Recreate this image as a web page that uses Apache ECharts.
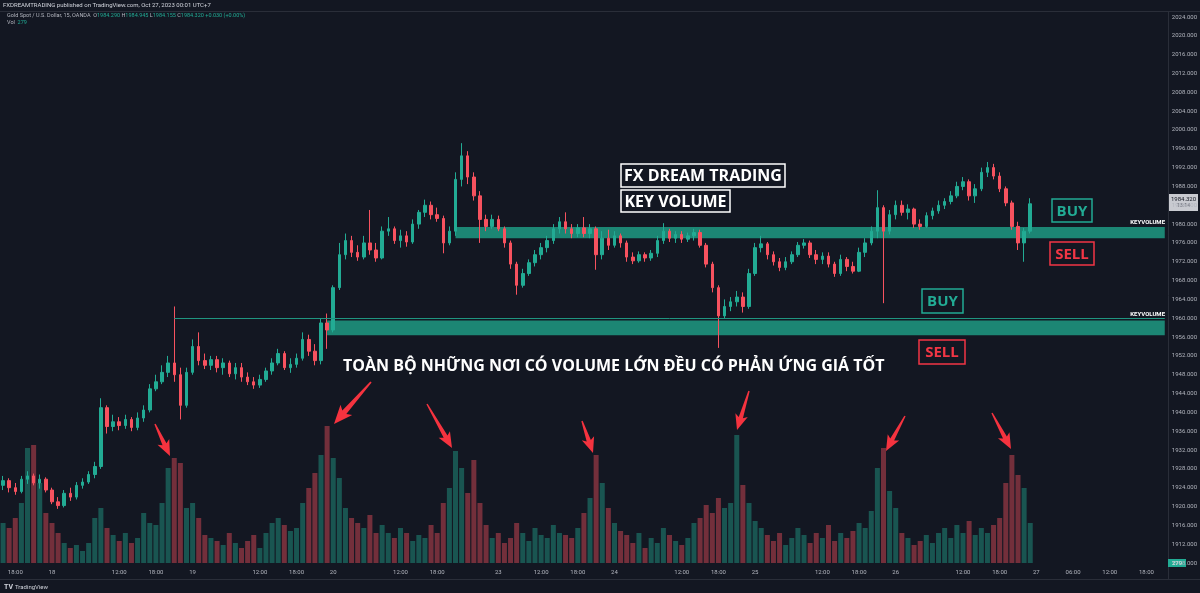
<!DOCTYPE html>
<html>
<head>
<meta charset="utf-8">
<title>XAUUSD 15 - Key Volume</title>
<script src="https://cdn.jsdelivr.net/npm/echarts@6/dist/echarts.min.js"></script>
<style>
  html, body { margin: 0; padding: 0; background: #131722; }
  #main { width: 1200px; height: 593px; }
</style>
</head>
<body>
<div id="main"></div>
<script>
// trading sessions (day, first hour, last hour), UTC+7, one slot per hour
var sessions = [
  ['17', 16, 23], ['18', 0, 3], ['18', 5, 23], ['19', 0, 3], ['19', 5, 23],
  ['20', 0, 3], ['20', 5, 23], ['21', 0, 3], ['23', 5, 23], ['24', 0, 3],
  ['24', 5, 23], ['25', 0, 3], ['25', 5, 23], ['26', 0, 3], ['26', 5, 23],
  ['27', 0, 21]
];

// time axis tick labels
var timeTicks = {
  '17 18:00': '18:00', '18 00:00': '18', '18 12:00': '12:00', '18 18:00': '18:00',
  '19 00:00': '19', '19 12:00': '12:00', '19 18:00': '18:00',
  '20 00:00': '20', '20 12:00': '12:00', '20 18:00': '18:00',
  '23 05:00': '23', '23 12:00': '12:00', '23 18:00': '18:00',
  '24 00:00': '24', '24 12:00': '12:00', '24 18:00': '18:00',
  '25 00:00': '25', '25 12:00': '12:00', '25 18:00': '18:00',
  '26 00:00': '26', '26 12:00': '12:00', '26 18:00': '18:00',
  '27 00:00': '27', '27 06:00': '06:00', '27 12:00': '12:00', '27 18:00': '18:00'
};

// [open, close, low, high]
var ohlc = [
  [1924.5,1925.5,1923.5,1926.5],[1925.5,1924.0,1923.0,1926.0],[1924.0,1923.2,1922.5,1925.0],[1923.2,1925.8,1922.8,1926.5],
  [1925.8,1926.5,1924.8,1927.5],[1926.5,1925.0,1924.5,1927.0],[1925.0,1925.8,1923.8,1926.8],[1925.8,1923.5,1923.0,1926.2],
  [1923.5,1921.0,1920.5,1924.0],[1921.0,1920.2,1919.5,1922.0],[1920.2,1922.8,1919.8,1923.5],[1922.8,1922.0,1921.2,1924.0],
  [1922.0,1924.5,1921.5,1925.2],[1924.5,1925.2,1923.8,1926.0],[1925.2,1926.8,1924.8,1927.5],[1926.8,1928.5,1926.0,1929.5],
  [1928.5,1941.0,1928.0,1943.0],[1941.0,1937.0,1935.5,1941.5],[1937.0,1938.0,1936.0,1939.5],[1938.0,1937.2,1936.2,1939.0],
  [1937.2,1938.5,1936.5,1939.5],[1938.5,1936.8,1936.0,1939.0],[1936.8,1938.8,1936.2,1940.0],[1938.8,1940.5,1938.0,1941.5],
  [1940.5,1945.0,1940.0,1946.0],[1945.0,1946.5,1944.5,1948.0],[1946.5,1948.5,1946.0,1950.0],[1948.5,1950.5,1947.5,1952.0],
  [1950.5,1948.0,1946.5,1962.5],[1948.0,1941.5,1938.5,1949.5],[1941.5,1948.5,1941.0,1949.5],[1948.5,1954.0,1948.0,1955.5],
  [1954.0,1951.0,1950.0,1957.0],[1951.0,1950.0,1949.2,1952.5],[1950.0,1951.2,1949.0,1952.0],[1951.2,1949.5,1948.5,1952.0],
  [1949.5,1950.5,1948.0,1951.5],[1950.5,1948.2,1947.5,1951.0],[1948.2,1949.5,1947.0,1950.5],[1949.5,1947.5,1946.5,1950.5],
  [1947.5,1946.5,1945.8,1948.5],[1946.5,1945.8,1945.0,1947.5],[1945.8,1947.0,1945.2,1948.0],[1947.0,1948.8,1946.5,1949.5],
  [1948.8,1950.5,1948.0,1951.5],[1950.5,1952.5,1950.0,1953.5],[1952.5,1949.5,1949.0,1953.0],[1949.5,1950.2,1948.4,1951.5],
  [1950.2,1951.5,1949.5,1952.5],[1951.5,1955.5,1951.0,1957.0],[1955.5,1953.0,1952.0,1956.5],[1953.0,1951.0,1950.0,1954.5],
  [1951.0,1959.0,1950.2,1960.0],[1959.0,1957.5,1953.5,1961.0],[1957.5,1966.5,1957.0,1967.0],[1966.5,1973.5,1966.0,1976.0],
  [1973.5,1976.5,1972.5,1978.0],[1976.5,1974.0,1973.0,1977.5],[1974.0,1973.0,1972.2,1975.5],[1973.0,1976.0,1972.5,1977.5],
  [1976.0,1974.5,1973.5,1983.0],[1974.5,1972.8,1972.0,1976.0],[1972.8,1978.5,1972.5,1979.5],[1978.5,1979.0,1977.5,1981.5],
  [1979.0,1976.5,1975.8,1979.5],[1976.5,1977.5,1975.0,1978.8],[1977.5,1976.2,1975.2,1978.5],[1976.2,1980.0,1975.8,1981.0],
  [1980.0,1982.5,1979.0,1983.0],[1982.5,1984.0,1981.5,1985.2],[1984.0,1982.0,1981.0,1984.8],[1982.0,1981.2,1980.5,1983.5],
  [1981.2,1976.0,1973.8,1981.8],[1976.0,1978.5,1975.5,1979.5],[1978.5,1989.5,1977.5,1991.0],[1989.5,1994.5,1988.0,1997.2],
  [1994.5,1990.0,1988.5,1995.5],[1990.0,1986.0,1985.0,1991.0],[1986.0,1981.0,1976.0,1987.0],[1981.0,1979.5,1978.5,1982.0],
  [1979.5,1981.0,1979.0,1982.0],[1981.0,1979.0,1978.5,1981.8],[1979.0,1976.0,1975.0,1979.5],[1976.0,1971.5,1970.5,1976.5],
  [1971.5,1967.0,1965.0,1972.0],[1967.0,1969.5,1966.5,1970.5],[1969.5,1971.8,1969.0,1972.5],[1971.8,1973.5,1971.0,1974.5],
  [1973.5,1975.0,1972.5,1976.0],[1975.0,1976.5,1974.0,1977.5],[1976.5,1979.0,1975.8,1980.0],[1979.0,1980.5,1978.0,1981.5],
  [1980.5,1979.0,1978.0,1982.5],[1979.0,1978.0,1977.0,1980.0],[1978.0,1979.2,1977.2,1980.0],[1979.2,1978.0,1977.2,1981.5],
  [1978.0,1979.0,1977.0,1980.0],[1979.0,1973.5,1970.3,1979.5],[1973.5,1977.0,1972.5,1978.5],[1977.0,1975.5,1974.5,1978.8],
  [1975.5,1977.5,1975.0,1978.5],[1977.5,1976.0,1975.0,1978.0],[1976.0,1973.0,1972.0,1976.5],[1973.0,1972.2,1971.5,1974.0],
  [1972.2,1973.5,1971.8,1974.2],[1973.5,1972.8,1972.0,1974.0],[1972.8,1973.8,1972.2,1974.5],[1973.8,1976.5,1973.0,1977.5],
  [1976.5,1978.5,1975.8,1980.2],[1978.5,1977.0,1976.2,1979.0],[1977.0,1977.8,1976.0,1978.5],[1977.8,1976.8,1976.0,1978.5],
  [1976.8,1977.5,1976.2,1978.2],[1977.5,1978.2,1976.5,1979.0],[1978.2,1975.5,1975.0,1978.8],[1975.5,1971.5,1970.8,1976.0],
  [1971.5,1966.5,1965.5,1972.0],[1966.5,1960.5,1953.7,1967.0],[1960.5,1962.5,1960.0,1964.0],[1962.5,1963.5,1961.5,1964.5],
  [1963.5,1964.5,1962.5,1965.8],[1964.5,1962.5,1961.2,1965.5],[1962.5,1969.5,1962.0,1970.5],[1969.5,1975.0,1969.0,1976.0],
  [1975.0,1975.8,1974.0,1977.5],[1975.8,1973.5,1972.5,1976.2],[1973.5,1972.0,1971.2,1974.2],[1972.0,1970.8,1970.0,1972.8],
  [1970.8,1972.0,1970.2,1973.0],[1972.0,1973.5,1971.5,1974.2],[1973.5,1975.5,1973.0,1976.2],[1975.5,1976.0,1974.8,1976.8],
  [1976.0,1973.5,1972.8,1976.5],[1973.5,1972.5,1971.5,1974.5],[1972.5,1973.2,1971.5,1974.0],[1973.2,1971.5,1970.8,1974.0],
  [1971.5,1969.5,1968.8,1972.0],[1969.5,1972.5,1969.0,1973.5],[1972.5,1971.0,1970.0,1973.0],[1971.0,1970.0,1969.5,1972.0],
  [1970.0,1974.0,1969.8,1975.0],[1974.0,1976.0,1973.0,1977.0],[1976.0,1978.5,1975.5,1979.5],[1978.5,1983.5,1977.0,1987.2],
  [1983.5,1978.5,1963.2,1984.0],[1978.5,1982.0,1977.8,1983.0],[1982.0,1984.0,1981.0,1985.0],[1984.0,1982.5,1981.8,1985.0],
  [1982.5,1983.2,1981.0,1984.2],[1983.2,1980.0,1979.2,1983.5],[1980.0,1979.5,1978.8,1981.0],[1979.5,1981.8,1979.2,1982.5],
  [1981.8,1982.8,1981.0,1983.5],[1982.8,1984.0,1982.2,1985.0],[1984.0,1984.8,1983.2,1985.5],[1984.8,1986.0,1984.2,1987.0],
  [1986.0,1988.0,1985.5,1989.0],[1988.0,1989.0,1987.2,1990.0],[1989.0,1986.0,1985.0,1989.5],[1986.0,1987.5,1984.5,1988.5],
  [1987.5,1991.0,1987.0,1992.0],[1991.0,1992.0,1990.0,1993.2],[1992.0,1990.2,1989.5,1992.8],[1990.2,1987.5,1986.8,1991.0],
  [1987.5,1984.5,1983.8,1988.0],[1984.5,1979.5,1978.8,1985.0],[1979.5,1976.0,1974.5,1980.5],[1976.0,1978.5,1972.0,1979.2],
  [1978.5,1984.32,1978.0,1985.5]
];

var volume = [
  40,35,45,60,115,118,80,50,40,30, 20,15,18,12,20,45,55,35,28,22,
  30,20,25,50,40,38,60,95,105,100, 55,60,45,28,25,22,18,30,20,15,
  22,28,15,30,40,45,38,32,35,60, 75,90,108,137,105,85,55,45,40,35,
  48,30,38,30,25,35,30,22,28,25, 38,30,60,75,112,95,70,103,60,38,
  25,30,20,25,40,30,22,35,28,25, 38,30,28,25,35,50,65,108,80,55,
  40,32,28,20,30,15,25,20,35,28, 22,18,25,40,45,58,50,65,55,60,
  128,78,60,42,35,28,22,30,18,25, 35,28,20,30,25,38,22,30,25,32,
  40,35,52,95,115,72,55,30,25,18, 22,28,20,30,35,25,38,30,42,28,
  35,30,38,45,80,108,88,75,40
];

// key volume zones [start slot, top, bottom]
var keyZones = [[74, 1979.4, 1977.0], [53, 1959.5, 1956.4]];
var keyLine = [28, 1959.9];

var cats = [];
sessions.forEach(function (s) {
  for (var h = s[1]; h <= s[2]; h++) cats.push(s[0] + ' ' + (h < 10 ? '0' : '') + h + ':00');
});

var UP = '#22ab94', DOWN = '#f7525f';
var volData = volume.map(function (v, i) {
  var up = ohlc[i][1] >= ohlc[i][0];
  return { value: v, itemStyle: { color: up ? 'rgba(34,171,148,0.42)' : 'rgba(247,82,95,0.42)' } };
});

function arrowShape(x1, y1, x2, y2, s) {
  var dx = x2 - x1, dy = y2 - y1, L = Math.sqrt(dx * dx + dy * dy);
  var ux = dx / L, uy = dy / L, px = -uy, py = ux;
  var hl = 13 * s, hw = 6.5 * s, nw = 2.2 * s, tw = 0.7 * s;
  var bx = x2 - ux * hl, by = y2 - uy * hl;
  var cx = x2 - ux * hl * 1.2, cy = y2 - uy * hl * 1.2;
  return [[x1 + px * tw, y1 + py * tw], [bx + px * nw, by + py * nw], [cx + px * hw, cy + py * hw], [x2, y2],
          [cx - px * hw, cy - py * hw], [bx - px * nw, by - py * nw], [x1 - px * tw, y1 - py * tw]];
}

function labelBox(x, y, w, h, color, text, fs) {
  return {
    type: 'group', children: [
      { type: 'rect', shape: { x: x, y: y, width: w, height: h }, style: { fill: 'rgba(0,0,0,0)', stroke: color, lineWidth: 1.5 } },
      { type: 'text', x: x + w / 2, y: y + h / 2 + 1, style: { text: text, fill: color, font: 'bold ' + fs + 'px "Open Sans"',
        align: 'center', verticalAlign: 'middle', textAlign: 'center', textVerticalAlign: 'middle' } }
    ]
  };
}

function txt(x, y, text, fill, font, align) {
  return { type: 'text', x: x, y: y, style: { text: text, fill: fill, font: font,
    align: align || 'left', textAlign: align || 'left', verticalAlign: 'middle', textVerticalAlign: 'middle' } };
}

var arrows = [[155, 424, 170, 456, 1], [371, 382, 334, 424, 1.2], [427, 404, 452, 448, 1],
              [582, 421, 593, 453, 1], [749, 391, 737, 430, 1], [905, 416, 886, 451, 1], [992, 413, 1011, 449, 1]];

var graphics = [
  txt(3, 5, 'FXDREAMTRADING published on TradingView.com, Oct 27, 2023 00:01 UTC+7', '#d1d4dc', '6px Roboto'),
  { type: 'line', shape: { x1: 0, y1: 11.5, x2: 1200, y2: 11.5 }, style: { stroke: '#2a2e39', lineWidth: 1 } },
  { type: 'line', shape: { x1: 1168.5, y1: 11, x2: 1168.5, y2: 580 }, style: { stroke: '#2a2e39', lineWidth: 1 } },
  { type: 'line', shape: { x1: 0, y1: 579.5, x2: 1200, y2: 579.5 }, style: { stroke: '#2a2e39', lineWidth: 1 } },
  { type: 'text', x: 7, y: 16, style: {
    text: '{g|Gold Spot / U.S. Dollar, 15, OANDA}  {g|O}{v|1984.290} {g|H}{v|1984.945} {g|L}{v|1984.155} {g|C}{v|1984.320} {v|+0.030 (+0.00%)}',
    font: '5.5px Roboto', verticalAlign: 'middle', textVerticalAlign: 'middle',
    rich: { g: { fill: '#b2b5be', font: '5.5px Roboto' }, v: { fill: UP, font: '5.5px Roboto' } } } },
  { type: 'text', x: 7, y: 23, style: { text: '{g|Vol}  {v|279}', font: '5.5px Roboto', verticalAlign: 'middle', textVerticalAlign: 'middle',
    rich: { g: { fill: '#b2b5be', font: '5.5px Roboto' }, v: { fill: UP, font: '5.5px Roboto' } } } },
  txt(4, 587, 'TV', '#d1d4dc', 'bold 7px Roboto'),
  txt(15, 587, 'TradingView', '#d1d4dc', '6px Roboto'),
  { type: 'rect', shape: { x: 1169, y: 194, width: 29, height: 17 }, style: { fill: '#c8cad0' } },
  txt(1183.5, 199, '1984.320', '#131722', '6px Roboto', 'center'),
  txt(1183.5, 206, '13:14', '#5d606b', '5.5px Roboto', 'center'),
  { type: 'rect', shape: { x: 1168, y: 559, width: 18, height: 8 }, style: { fill: UP } },
  txt(1177, 563, '279', '#ffffff', '6px Roboto', 'center'),
  txt(1165, 222, 'KEYVOLUME', '#ffffff', 'bold 6px Roboto', 'right'),
  txt(1165, 314, 'KEYVOLUME', '#ffffff', 'bold 6px Roboto', 'right'),
  labelBox(621, 164, 164, 23, '#ffffff', 'FX DREAM TRADING', 16),
  labelBox(621, 190, 109, 22, '#ffffff', 'KEY VOLUME', 16),
  labelBox(1052, 199, 40, 23, UP, 'BUY', 15),
  labelBox(1050, 242, 44, 23, '#f23645', 'SELL', 15),
  labelBox(922, 289, 41, 24, UP, 'BUY', 15),
  labelBox(919, 340, 46, 24, '#f23645', 'SELL', 15),
  txt(343, 366, 'TOÀN BỘ NHỮNG NƠI CÓ VOLUME LỚN ĐỀU CÓ PHẢN ỨNG GIÁ TỐT', '#ffffff', 'bold 16px "Open Sans"')
];
arrows.forEach(function (a) {
  graphics.push({ type: 'polygon', shape: { points: arrowShape(a[0], a[1], a[2], a[3], a[4]) }, style: { fill: '#f5333f' }, z: 50 });
});

var chart = echarts.init(document.getElementById('main'));
chart.setOption({
  backgroundColor: '#131722',
  animation: false,
  grid: { left: 0, right: 32, top: 17, bottom: 30 },
  xAxis: {
    type: 'category', data: cats, boundaryGap: true,
    axisLine: { show: false }, axisTick: { show: false }, splitLine: { show: false },
    axisLabel: {
      color: '#b2b5be', fontSize: 6, margin: 6, fontFamily: 'Roboto', hideOverlap: false,
      interval: function (i, v) { return timeTicks[v] !== undefined; },
      formatter: function (v) { return timeTicks[v] || ''; }
    }
  },
  yAxis: [
    {
      type: 'value', position: 'right', min: 1908, max: 2024, interval: 4, scale: true,
      axisLine: { show: false }, axisTick: { show: false }, splitLine: { show: false },
      axisLabel: { color: '#b2b5be', fontSize: 6, fontFamily: 'Roboto', margin: 4,
        formatter: function (v) { return v.toFixed(3); } }
    },
    { type: 'value', min: 0, max: 546, show: false }
  ],
  series: [
    {
      type: 'bar', yAxisIndex: 1, data: volData, barWidth: 5, z: 1, silent: true
    },
    {
      type: 'candlestick', data: ohlc, barWidth: 3, z: 3,
      itemStyle: { color: UP, color0: DOWN, borderColor: UP, borderColor0: DOWN, borderWidth: 1 }
    },
    {
      type: 'line', data: [], z: 5, silent: true,
      markArea: {
        silent: true,
        itemStyle: { color: 'rgba(30,150,128,0.88)' },
        data: keyZones.map(function (k) {
          return [{ xAxis: cats[k[0]], yAxis: k[1] }, { xAxis: cats[cats.length - 1], yAxis: k[2] }];
        })
      },
      markLine: {
        silent: true, symbol: ['none', 'none'], label: { show: false },
        lineStyle: { color: '#1f9580', width: 1, type: 'solid' },
        data: [[{ xAxis: cats[keyLine[0]], yAxis: keyLine[1] }, { xAxis: cats[cats.length - 1], yAxis: keyLine[1] }]]
      }
    }
  ],
  graphic: { elements: graphics }
});
</script>
</body>
</html>
